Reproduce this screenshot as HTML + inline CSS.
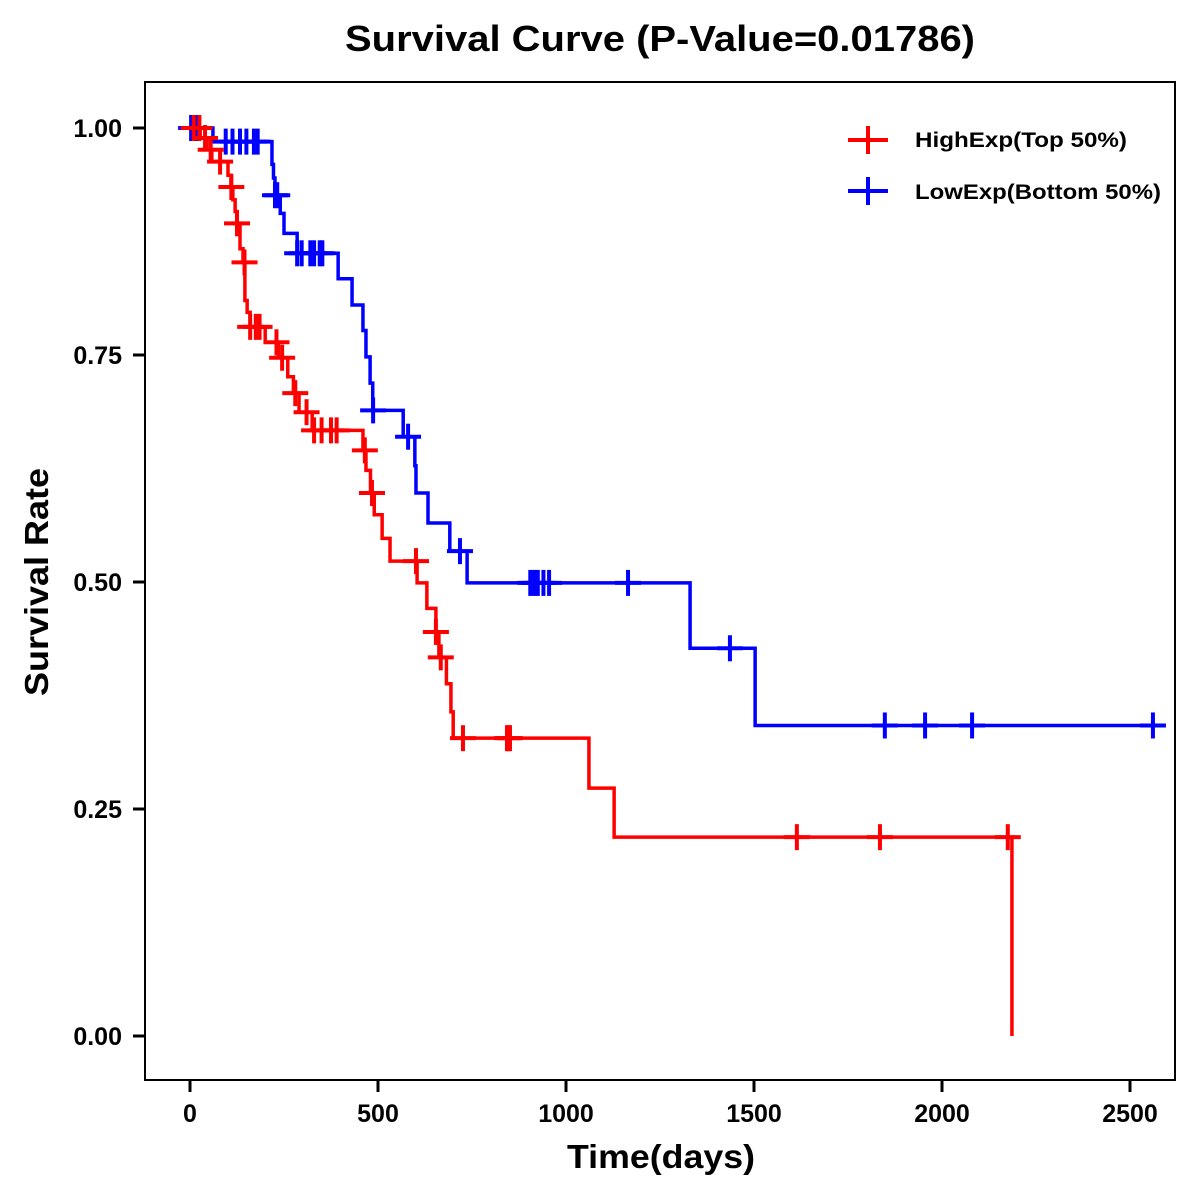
<!DOCTYPE html>
<html><head><meta charset="utf-8"><style>
html,body{margin:0;padding:0;background:#fff;}
svg{display:block;font-family:"Liberation Sans",Arial,sans-serif;}
</style></head><body>
<svg id="chart" width="1200" height="1200" viewBox="0 0 1200 1200">
<text x="660" y="51" text-anchor="middle" font-size="36" font-weight="bold" textLength="630" lengthAdjust="spacingAndGlyphs">Survival Curve (P-Value=0.01786)</text>
<rect x="145" y="82" width="1030" height="998" fill="none" stroke="#000" stroke-width="2"/>
<g id="xaxis"></g>
<g id="yaxis"></g>
<g id="series"></g>
<text x="661" y="1168" text-anchor="middle" font-size="33" font-weight="bold" textLength="188" lengthAdjust="spacingAndGlyphs">Time(days)</text>
<text transform="translate(48,582) rotate(-90)" text-anchor="middle" font-size="33" font-weight="bold" textLength="228" lengthAdjust="spacingAndGlyphs">Survival Rate</text>
<g>
<g>
<line x1="848" y1="140" x2="888" y2="140" stroke="#f00" stroke-width="4"/><line x1="868" y1="126" x2="868" y2="154" stroke="#f00" stroke-width="4"/>
<text x="915" y="147" font-size="21" font-weight="bold" textLength="212" lengthAdjust="spacingAndGlyphs">HighExp(Top 50%)</text></g>
<g>
<line x1="848" y1="191" x2="888" y2="191" stroke="#00f" stroke-width="4"/><line x1="868" y1="177" x2="868" y2="205" stroke="#00f" stroke-width="4"/>
<text x="915" y="199" font-size="21" font-weight="bold" textLength="246" lengthAdjust="spacingAndGlyphs">LowExp(Bottom 50%)</text></g>
</g>
</svg>
<script>
const xTicks=[0,500,1000,1500,2000,2500];
const yTicks=[0,0.25,0.5,0.75,1.0];
const yTickLabels=["0.00","0.25","0.50","0.75","1.00"];
const highTimes=[0,27,45,58,101,109,114,120,125,133,141,146,152,160,200,235,260,275,290,325,375,460,468,480,490,511,532,604,630,654,662,682,694,700,1061,1128,2186];
const highSurv=[1,0.989,0.976,0.963,0.948,0.935,0.921,0.908,0.895,0.867,0.852,0.81,0.797,0.781,0.764,0.747,0.726,0.708,0.687,0.667,0.667,0.645,0.623,0.598,0.574,0.548,0.523,0.499,0.471,0.445,0.417,0.388,0.357,0.328,0.273,0.219,0];
const highCensor=[10,25,40,55,80,110,125,145,160,175,185,230,245,280,310,330,350,375,390,465,484,601,654,667,726,843,847,851,1614,1835,2175];
const lowTimes=[0,61,218,222,226,240,250,285,394,431,460,468,479,486,567,598,601,633,691,737,1330,1503,2580];
const lowSurv=[1,0.985,0.960,0.945,0.926,0.906,0.884,0.862,0.834,0.805,0.777,0.748,0.719,0.689,0.660,0.628,0.598,0.565,0.534,0.499,0.427,0.342,0.342];
const lowCensor=[3,8,12,17,22,95,113,133,150,170,180,226,232,285,297,320,330,345,352,487,580,718,905,915,925,940,955,1165,1436,1848,1955,2080,2561];
const endHigh=2186, endLow=2580;
const NS='http://www.w3.org/2000/svg';
const X=t=>190+t*0.376;
const Y=s=>1036-s*908;
function mk(tag,attrs,parent){const e=document.createElementNS(NS,tag);for(const k in attrs)e.setAttribute(k,attrs[k]);parent.appendChild(e);return e;}
const xa=document.getElementById('xaxis'),ya=document.getElementById('yaxis'),sg=document.getElementById('series');
xTicks.forEach(v=>{
 const l=mk('line',{x1:X(v),x2:X(v),y1:1080,y2:1092,stroke:'#000','stroke-width':3},xa);
 
 
 const t=mk('text',{x:X(v),y:1122,'text-anchor':'middle','font-size':25,'font-weight':'bold'},xa);
 t.textContent=v;
 
 
});
yTicks.forEach((v,i)=>{
 const l=mk('line',{x1:133,x2:145,y1:Y(v),y2:Y(v),stroke:'#000','stroke-width':3},ya);
 
 
 const t=mk('text',{x:122,y:Y(v)+9,'text-anchor':'end','font-size':25,'font-weight':'bold'},ya);
 t.textContent=yTickLabels[i];
 
 
});
function survAt(times,surv,t){let s=surv[0];for(let i=0;i<times.length;i++){if(times[i]<=t)s=surv[i];}return s;}
function drawCurve(times,surv,end,cens,color,name){
 let d='M'+X(times[0])+' '+Y(surv[0]);
 for(let i=1;i<times.length;i++){d+=' H'+X(times[i])+' V'+Y(surv[i]);}
 d+=' H'+X(end);
 const p=mk('path',{d:d,fill:'none',stroke:color,'stroke-width':3.5},sg);
 
 
 cens.forEach(t=>{
  const s=survAt(times,surv,t);
  const g=mk('g',{stroke:color,'stroke-width':4},sg);
  
  
  mk('line',{x1:X(t)-13,x2:X(t)+13,y1:Y(s),y2:Y(s)},g);
  mk('line',{x1:X(t),x2:X(t),y1:Y(s)-13,y2:Y(s)+13},g);
 });
}
drawCurve(lowTimes,lowSurv,endLow,lowCensor,'#00f','low-exp');
drawCurve(highTimes,highSurv,endHigh,highCensor,'#f00','high-exp');
</script>
</body></html>
